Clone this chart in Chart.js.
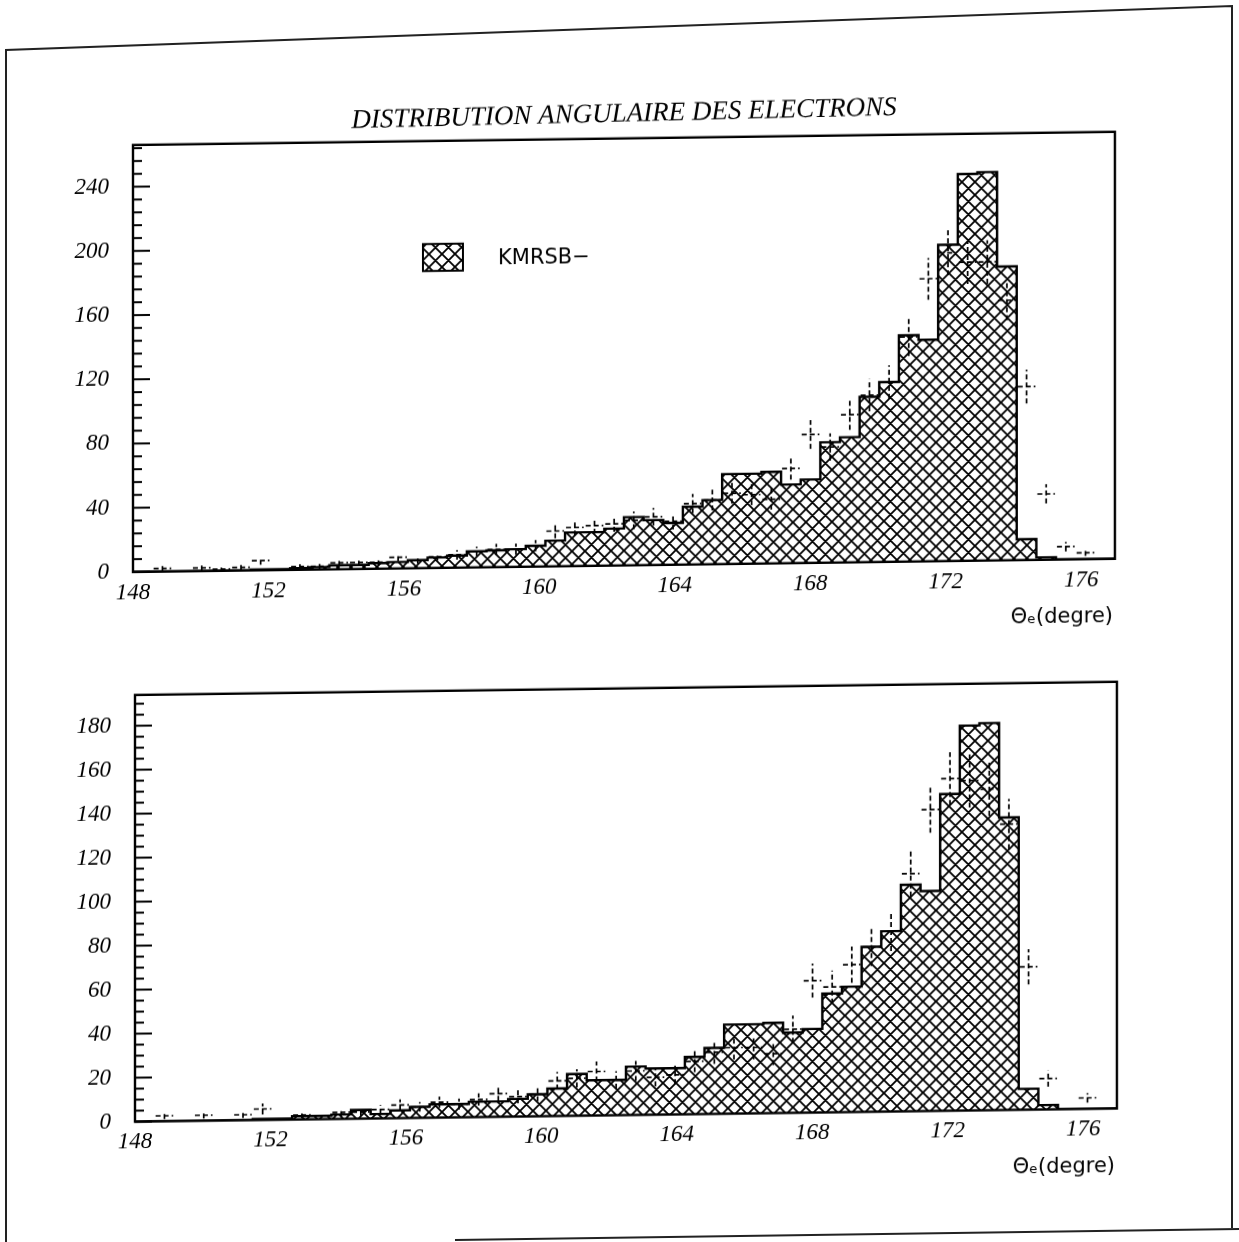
<!DOCTYPE html>
<html>
<head>
<meta charset="utf-8">
<script src="https://cdn.jsdelivr.net/npm/chart.js@4.4.1/dist/chart.umd.min.js"></script>
<style>
  html, body { margin: 0; padding: 0; background: #fff; }
  #page { position: relative; width: 1239px; height: 1242px; overflow: hidden; background: #fff; }
  #sheetFrame { position: absolute; left: 0; top: 0; }
  /* the printed sheet sits slightly askew */
  #sheet { position: absolute; left: 0; top: 0; width: 1239px; height: 1242px;
           transform-origin: 0 0; transform: skewY(-0.77deg); }
  #topBox { position: absolute; left: 0; top: 0; width: 1239px; height: 650px; }
  #botBox { position: absolute; left: 0; top: 650px; width: 1239px; height: 592px; }
</style>
</head>
<body>
<div id="page">
  <canvas id="sheetFrame" width="1239" height="1242"></canvas>
  <div id="sheet">
    <div id="topBox"><canvas id="cTop" width="1239" height="650"></canvas></div>
    <div id="botBox"><canvas id="cBot" width="1239" height="592"></canvas></div>
  </div>
</div>
<script>
// Histogram binning: 50 bins of 0.58 degree starting at 148 degrees
const BIN_LOW = 148;
const BIN_WIDTH = 0.58;

const titleText = 'DISTRIBUTION ANGULAIRE DES ELECTRONS';
const legendLabel = 'KMRSB\u2212';
const xAxisTitle = '\u0398\u2091(degre)';

const xTickLabels = [148, 152, 156, 160, 164, 168, 172, 176];
const yTickLabelsTop = [0, 40, 80, 120, 160, 200, 240];
const yTickLabelsBot = [0, 20, 40, 60, 80, 100, 120, 140, 160, 180];

// upper panel: simulated histogram (hatched) and measured points with errors
const histTop = [0, 0, 0, 0, 0, 0, 0.5, 0.5, 1, 1.5,
                 2.5, 2.5, 3.5, 4, 5, 6.5, 7.5, 10, 10.5, 11,
                 13, 16, 21, 21, 23, 30, 28, 26, 36, 40,
                 56, 56, 57, 49, 52, 75, 78, 103, 112, 141,
                 138, 197, 241, 242, 183, 13, 1.5, 0, 0, 0];
const dataTop = [null, 2, null, 2, 1, 2, 6, null, 2, 2,
                 4, 4, 4, 7, 5, 7, 8, 10, 11, 11,
                 13, 22, 24, 25, 26, 28, 30, 27, 38, 40,
                 44, 43, 40, 59, 80, 72, 92, 104, 112, 140,
                 176, 192, 186, 186, 162, 108, 41, 8, 4, null];
const errTop = [null, 1.5, null, 1.5, 1, 1.5, 2.5, null, 1.5, 1.5,
                2, 2, 2, 2.5, 2, 2.5, 3, 3, 3.5, 3.5,
                3.5, 4.5, 5, 5, 5, 5.5, 5.5, 5, 6, 6.5,
                6.5, 6.5, 6.5, 7, 9, 8.5, 9.5, 10, 10.5, 12,
                13, 14, 13.5, 13.5, 12.5, 10.5, 6, 3, 2, null];

// lower panel
const histBot = [0, 0, 0, 0, 0, 0, 0.5, 0.5, 1.5, 1.5,
                 2, 4, 2, 3.5, 5, 6, 6, 7, 7, 8,
                 10, 12.5, 19, 16, 16, 22, 21, 21, 26, 30,
                 40.5, 40.5, 41, 36.5, 38, 54, 57, 75, 82, 103,
                 100, 144, 175, 176, 133, 9.5, 2, 0, 0, 0];
const dataBot = [null, 2.5, null, 2.5, null, 2.5, 5, null, 2, null,
                 3, 3, 4, 6, 5, 7, 6, 8, 10.5, 9,
                 10, 16, 17, 20, 16, 20, 17, 18, 24, 28,
                 30, 30, 27, 38, 60, 57, 67, 75, 82, 108,
                 137, 151, 150, 146, 130, 65, 14, null, 5, null];
const errBot = [null, 1.5, null, 1.5, null, 1.5, 2.5, null, 1.5, null,
                1.7, 1.7, 2, 2.5, 2.2, 2.6, 2.5, 2.8, 3.2, 3,
                3.2, 4, 4.1, 4.5, 4, 4.5, 4.1, 4.2, 4.9, 5.3,
                5.5, 5.5, 5.2, 6.2, 7.7, 7.5, 8.2, 8.7, 9, 10.4,
                10.5, 12, 12.2, 12.1, 11.4, 8, 3.7, null, 2.2, null];

const binEdge = k => BIN_LOW + k * BIN_WIDTH;

// step outline points: each value held from its bin's lower edge
function stepPoints(values) {
  const pts = values.map((v, k) => ({ x: binEdge(k), y: v }));
  pts.push({ x: binEdge(values.length), y: values[values.length - 1] });
  return pts;
}

function crossHatch(ctx) {
  const s = 13;
  const c = document.createElement('canvas');
  c.width = s; c.height = s;
  const g = c.getContext('2d');
  g.fillStyle = '#fff';
  g.fillRect(0, 0, s, s);
  g.strokeStyle = '#000';
  g.lineWidth = 1.8;
  g.beginPath();
  for (const o of [-s, 0, s]) {
    g.moveTo(o, 0); g.lineTo(o + s, s);
    g.moveTo(o + s, 0); g.lineTo(o, s);
  }
  g.stroke();
  return ctx.createPattern(c, 'repeat');
}

const serifItalic = { family: "'Liberation Serif', 'DejaVu Serif', serif", style: 'italic', size: 23 };

// frame, inner ticks, measured points, legend and titles
const decor = {
  id: 'decor',
  afterDatasetsDraw(chart, args, o) {
    const { ctx, chartArea: a, scales: { x, y } } = chart;
    ctx.save();
    ctx.strokeStyle = '#000';
    ctx.fillStyle = '#000';

    // measured points with error bars
    ctx.lineWidth = 1.7;
    ctx.setLineDash([5, 3]);
    o.points.forEach((v, k) => {
      if (v == null) return;
      const x0 = x.getPixelForValue(binEdge(k));
      const x1 = x.getPixelForValue(binEdge(k + 1));
      const xc = (x0 + x1) / 2;
      const yc = y.getPixelForValue(v);
      const e = o.errors[k];
      ctx.beginPath();
      ctx.moveTo(x0 + 1, yc); ctx.lineTo(x1 - 1, yc);
      ctx.moveTo(xc, y.getPixelForValue(Math.max(0, v - e)));
      ctx.lineTo(xc, y.getPixelForValue(v + e));
      ctx.stroke();
    });
    ctx.setLineDash([]);

    // frame
    ctx.lineWidth = 2.4;
    ctx.strokeRect(a.left, a.top, a.right - a.left, a.bottom - a.top);

    // ticks on the inner side of the left axis
    ctx.lineWidth = 2;
    for (let v = 0; v <= y.max + 1e-6; v += o.minorStep) {
      const py = y.getPixelForValue(v);
      const len = o.majorTicks.includes(v) ? 17 : 9;
      ctx.beginPath();
      ctx.moveTo(a.left, py); ctx.lineTo(a.left + len, py);
      ctx.stroke();
    }

    // axis title
    ctx.font = "21px 'DejaVu Sans', sans-serif";
    ctx.textAlign = 'right';
    ctx.textBaseline = 'middle';
    ctx.fillText(xAxisTitle, a.right - 2, a.bottom + 58);

    if (o.legend) {
      const bx = a.left + 290, by = a.top + 103, bw = 40, bh = 27;
      ctx.fillStyle = o.pattern;
      ctx.fillRect(bx, by, bw, bh);
      ctx.lineWidth = 2;
      ctx.strokeRect(bx, by, bw, bh);
      ctx.fillStyle = '#000';
      ctx.textAlign = 'left';
      ctx.font = "21px 'DejaVu Sans', sans-serif";
      ctx.fillText(legendLabel, a.left + 365, by + bh / 2 + 2);
    }

    if (o.title) {
      ctx.font = "italic 27px 'Liberation Serif', 'DejaVu Serif', serif";
      ctx.textAlign = 'center';
      ctx.textBaseline = 'middle';
      ctx.translate((a.left + a.right) / 2, a.top - 24);
      ctx.rotate(-0.6 * Math.PI / 180);
      ctx.fillText(titleText, 0, 0);
    }
    ctx.restore();
  }
};

function makeChart(canvasId, hist, points, errors, yMax, yTicks, minorStep, area, withTitle) {
  const canvas = document.getElementById(canvasId);
  const ctx = canvas.getContext('2d');
  const pattern = crossHatch(ctx);
  return new Chart(ctx, {
    type: 'line',
    data: {
      datasets: [{
        data: stepPoints(hist),
        stepped: true,
        borderColor: '#000',
        borderWidth: 2.4,
        backgroundColor: pattern,
        fill: 'origin',
        pointRadius: 0,
        tension: 0
      }]
    },
    options: {
      responsive: false,
      animation: false,
      layout: { padding: { left: 0, top: area.top, right: canvas.width - area.right, bottom: 0 } },
      scales: {
        x: {
          type: 'linear', min: 148, max: 177,
          grid: { display: false, drawTicks: false },
          border: { display: false },
          afterBuildTicks: s => { s.ticks = xTickLabels.map(v => ({ value: v })); },
          afterFit: s => { s.height = canvas.height - area.bottom; },
          ticks: { autoSkip: false, maxRotation: 0, padding: 7, color: '#000', font: serifItalic,
                   callback: v => String(v) }
        },
        y: {
          min: 0, max: yMax,
          grid: { display: false, drawTicks: false },
          border: { display: false },
          afterBuildTicks: s => { s.ticks = yTicks.map(v => ({ value: v })); },
          afterFit: s => { s.width = area.left; },
          ticks: { padding: 24, color: '#000', font: serifItalic, callback: v => String(v) }
        }
      },
      plugins: {
        legend: { display: false },
        tooltip: { enabled: false },
        decor: { points, errors, minorStep, majorTicks: yTicks, legend: withTitle, title: withTitle, pattern }
      }
    },
    plugins: [decor]
  });
}

makeChart('cTop', histTop, dataTop, errTop, 266, yTickLabelsTop, 8,
          { left: 133, right: 1115, top: 146.8, bottom: 573.8 }, true);
makeChart('cBot', histBot, dataBot, errBot, 194, yTickLabelsBot, 5,
          { left: 135, right: 1117, top: 46.8, bottom: 473.5 }, false);

// outer sheet border
(function () {
  const g = document.getElementById('sheetFrame').getContext('2d');
  g.strokeStyle = '#222';
  g.lineWidth = 2;
  g.beginPath();
  g.moveTo(6, 1242); g.lineTo(6, 50); g.lineTo(1232, 6); g.lineTo(1232, 1228);
  g.moveTo(455, 1240); g.lineTo(1239, 1229);
  g.stroke();
})();
</script>
</body>
</html>
